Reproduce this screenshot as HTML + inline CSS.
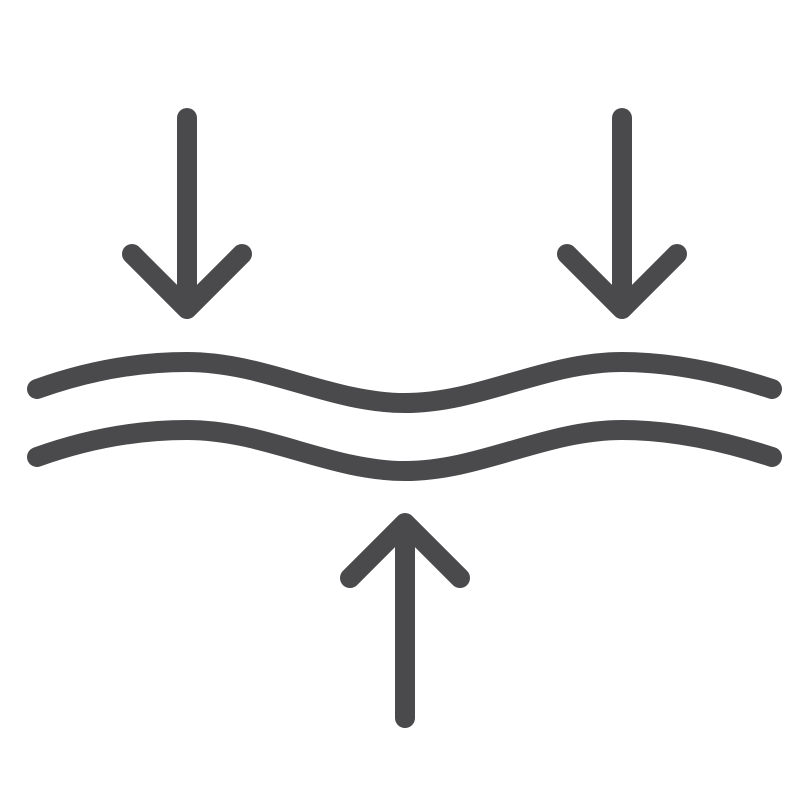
<!DOCTYPE html>
<html><head><meta charset="utf-8"><style>
html,body{margin:0;padding:0;background:#fff;}
svg{display:block;}
</style></head><body>
<svg width="800" height="800" viewBox="0 0 800 800" xmlns="http://www.w3.org/2000/svg">
<g fill="none" stroke="#4a4a4c" stroke-width="20" stroke-linecap="round" stroke-linejoin="round">
<path d="M187,118 V308 M132,254 L187,309 L242,254"/>
<path d="M622,118 V308 M567,254 L622,309 L677,254"/>
<path d="M405,718 V526 M350,578 L405,523 L460,578"/>
<path d="M37,389 C90,370 140,362 187,362 C265,362 330,403 405,403 C480,403 545,362 622,362 C670,362 720,372 772,389"/>
<path d="M37,457 C90,438 140,430 187,430 C265,430 330,471 405,471 C480,471 545,430 622,430 C670,430 720,440 772,457"/>
</g>
</svg>
</body></html>
